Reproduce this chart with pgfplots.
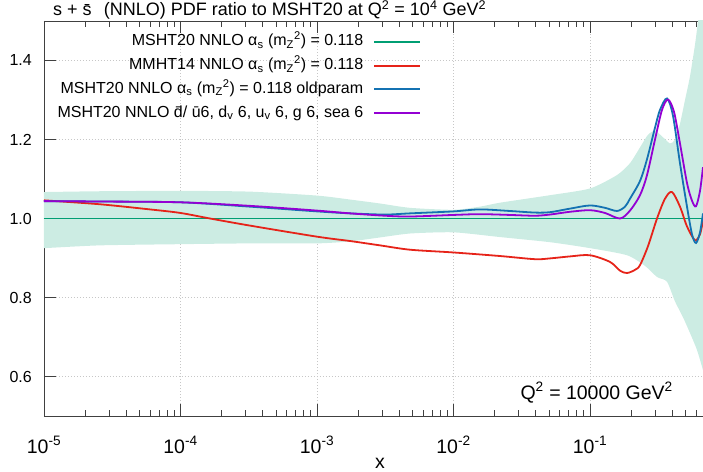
\documentclass[border=0pt]{standalone}
\usepackage{fontspec}
\setmainfont{Liberation Sans}
\usepackage{pgfplots}
\pgfplotsset{compat=1.18}
\definecolor{bandc}{RGB}{204,236,227}
\definecolor{cgreen}{RGB}{0,158,115}
\definecolor{cred}{RGB}{230,35,25}
\definecolor{cblue}{RGB}{20,114,178}
\definecolor{cpurple}{RGB}{148,0,211}
\definecolor{axc}{RGB}{64,64,64}
\begin{document}
\begin{tikzpicture}
\begin{axis}[name=ax, scale only axis, width=659pt, height=395pt,
  xmode=log, xmin=1e-5, xmax=0.6727, ymin=0.5, ymax=1.5,
  axis x line=box, axis y line=left, axis line style={-, axc, line width=0.9pt},
  xtick={1e-5,1e-4,1e-3,1e-2,1e-1},
  xticklabels={10\textsuperscript{-5},10\textsuperscript{-4},10\textsuperscript{-3},10\textsuperscript{-2},10\textsuperscript{-1}},
  minor xtick={2e-5,3e-5,4e-5,5e-5,6e-5,7e-5,8e-5,9e-5,2e-4,3e-4,4e-4,5e-4,6e-4,7e-4,8e-4,9e-4,2e-3,3e-3,4e-3,5e-3,6e-3,7e-3,8e-3,9e-3,2e-2,3e-2,4e-2,5e-2,6e-2,7e-2,8e-2,9e-2,0.2,0.3,0.4,0.5,0.6},
  ytick={0.6,0.8,1.0,1.2,1.4}, yticklabels={0.6,0.8,1.0,1.2,1.4},
  tick align=inside, major tick length=12pt, minor tick length=6pt,
  every tick/.style={axc, line width=0.8pt},
  grid=major, major grid style={black!22, dash pattern=on 0.8pt off 2.2pt, line width=0.6pt},
  xticklabel style={font=\fontsize{19.5}{22}\selectfont, anchor=base, inner sep=0pt, yshift=-37pt},
  yticklabel style={font=\fontsize{16}{19}\selectfont, anchor=east, inner sep=0pt, xshift=-12pt},
  legend style={at={(0.5721,0.9671)}, anchor=north east, draw=none, fill=none, inner sep=0pt, outer sep=0pt,
    row sep=7.7pt, column sep=10pt, font=\fontsize{16}{19}\selectfont,
    nodes={inner sep=0pt, text height=12pt, text depth=4pt}},
  legend cell align=right, legend plot pos=right,
  legend image code/.code={\draw[#1] (0pt,0pt) -- (46pt,0pt);},
]
% uncertainty band (upper forward, lower backward)
\addplot[fill=bandc, draw=none, smooth, tension=0.4, forget plot] coordinates {
(8e-6,1.067) (1e-5,1.067) (2.572e-5,1.069) (1e-4,1.070) (3.230e-4,1.068) (1e-3,1.058) (1.745e-3,1.048)
(2.893e-3,1.038) (4.801e-3,1.027) (1e-2,1.022) (0.01563,1.030) (0.02191,1.040) (0.05093,1.059)
(0.1,1.076) (0.1577,1.11) (0.1963,1.14) (0.2324,1.18) (0.2660,1.212) (0.2994,1.222) (0.3369,1.208)
(0.3855,1.19) (0.4194,1.20) (0.4562,1.24) (0.4966,1.30) (0.5402,1.36) (0.5877,1.44) (0.6183,1.50)
(0.6727,1.62) (0.70,1.68)
(0.70,0.59) (0.6727,0.616) (0.6080,0.667) (0.5402,0.71) (0.4800,0.75) (0.4194,0.79) (0.3665,0.84)
(0.3097,0.852) (0.2529,0.88) (0.1867,0.907) (0.1,0.925) (0.05093,0.94) (0.02191,0.953) (1e-2,0.965)
(4.801e-3,0.962) (2.893e-3,0.952) (1.745e-3,0.942) (1e-3,0.937) (3.230e-4,0.937) (1e-4,0.935)
(2.572e-5,0.932) (1e-5,0.925) (8e-6,0.925)
} -- cycle;
\addplot[cgreen, line width=1.8pt] coordinates {(1e-5,1.0) (0.6727,1.0)};
\addlegendentry{MSHT20 NNLO α\textsubscript{s} (m\textsubscript{Z}\textsuperscript{2}) = 0.118}
\addplot[cred, line width=1.8pt, smooth] coordinates {
(1e-5,1.046) (2.572e-5,1.036) (5.978e-5,1.023) (1e-4,1.014) (1.645e-4,1.000) (3.230e-4,0.982)
(1e-3,0.954) (1.745e-3,0.943) (2.893e-3,0.932) (4.801e-3,0.921) (1e-2,0.914) (0.02191,0.905)
(0.03955,0.897) (0.05093,0.899) (0.07137,0.904) (0.1,0.907) (0.1401,0.890) (0.1659,0.868)
(0.1867,0.862) (0.2136,0.870) (0.2324,0.882) (0.2660,0.930) (0.3097,1.000) (0.3543,1.050)
(0.3987,1.067) (0.4562,1.030) (0.5135,0.980) (0.5877,0.945) (0.6396,0.960) (0.6727,0.996)
};
\addlegendentry{MMHT14 NNLO α\textsubscript{s} (m\textsubscript{Z}\textsuperscript{2}) = 0.118}
\addplot[cblue, line width=1.8pt, smooth] coordinates {
(1e-5,1.044) (2.572e-5,1.043) (1e-4,1.041) (3.230e-4,1.030) (1e-3,1.018) (1.745e-3,1.013)
(3.149e-3,1.010) (4.801e-3,1.013) (1e-2,1.018) (0.01563,1.023) (0.02594,1.019) (0.03955,1.015)
(0.05093,1.016) (0.07137,1.025) (0.1,1.033) (0.1288,1.027) (0.1577,1.019) (0.1805,1.030)
(0.1963,1.050) (0.2324,1.095) (0.2616,1.150) (0.2994,1.230) (0.3257,1.275) (0.3665,1.304)
(0.4055,1.260) (0.4562,1.140) (0.5135,1.030) (0.5588,0.960) (0.5978,0.938) (0.6396,0.965) (0.6727,1.013)
};
\addlegendentry{MSHT20 NNLO α\textsubscript{s} (m\textsubscript{Z}\textsuperscript{2}) = 0.118 oldparam}
\addplot[cpurple, line width=1.8pt, smooth] coordinates {
(1e-5,1.044) (2.572e-5,1.043) (1e-4,1.041) (3.230e-4,1.032) (1e-3,1.020) (1.745e-3,1.013)
(3.149e-3,1.007) (4.801e-3,1.005) (1e-2,1.009) (0.01563,1.011) (0.02594,1.009) (0.03955,1.007)
(0.05093,1.010) (0.07137,1.017) (0.1,1.021) (0.1288,1.014) (0.1659,1.000) (0.1963,1.020)
(0.2324,1.059) (0.2616,1.110) (0.2994,1.200) (0.3369,1.275) (0.3727,1.301) (0.4124,1.270)
(0.4562,1.190) (0.5135,1.090) (0.5588,1.045) (0.5978,1.031) (0.6396,1.070) (0.6727,1.130)
};
\addlegendentry{MSHT20 NNLO \={d}/ \={u}6, d\textsubscript{v} 6, u\textsubscript{v} 6, g 6, sea 6}
\end{axis}
\node[anchor=base west, font=\fontsize{18}{21}\selectfont, inner sep=0pt] at ([xshift=9pt,yshift=5pt]ax.north west)
  {s + \={s}\hspace{0.4em} (NNLO) PDF ratio to MSHT20 at Q\textsuperscript{2} = 10\textsuperscript{4} GeV\textsuperscript{2}};
\node[anchor=base, font=\fontsize{19.5}{22}\selectfont, inner sep=0pt] at ([xshift=336pt,yshift=-52pt]ax.south west) {x};
\node[anchor=base east, font=\fontsize{19.5}{22}\selectfont, inner sep=0pt] at ([xshift=-30pt,yshift=17pt]ax.south east)
  {Q\textsuperscript{2} = 10000 GeV\textsuperscript{2}};
\pgfresetboundingbox
\path[use as bounding box] ([xshift=-44pt,yshift=-55pt]ax.south west) rectangle ([yshift=21pt]ax.north east);
\end{tikzpicture}
\end{document}
